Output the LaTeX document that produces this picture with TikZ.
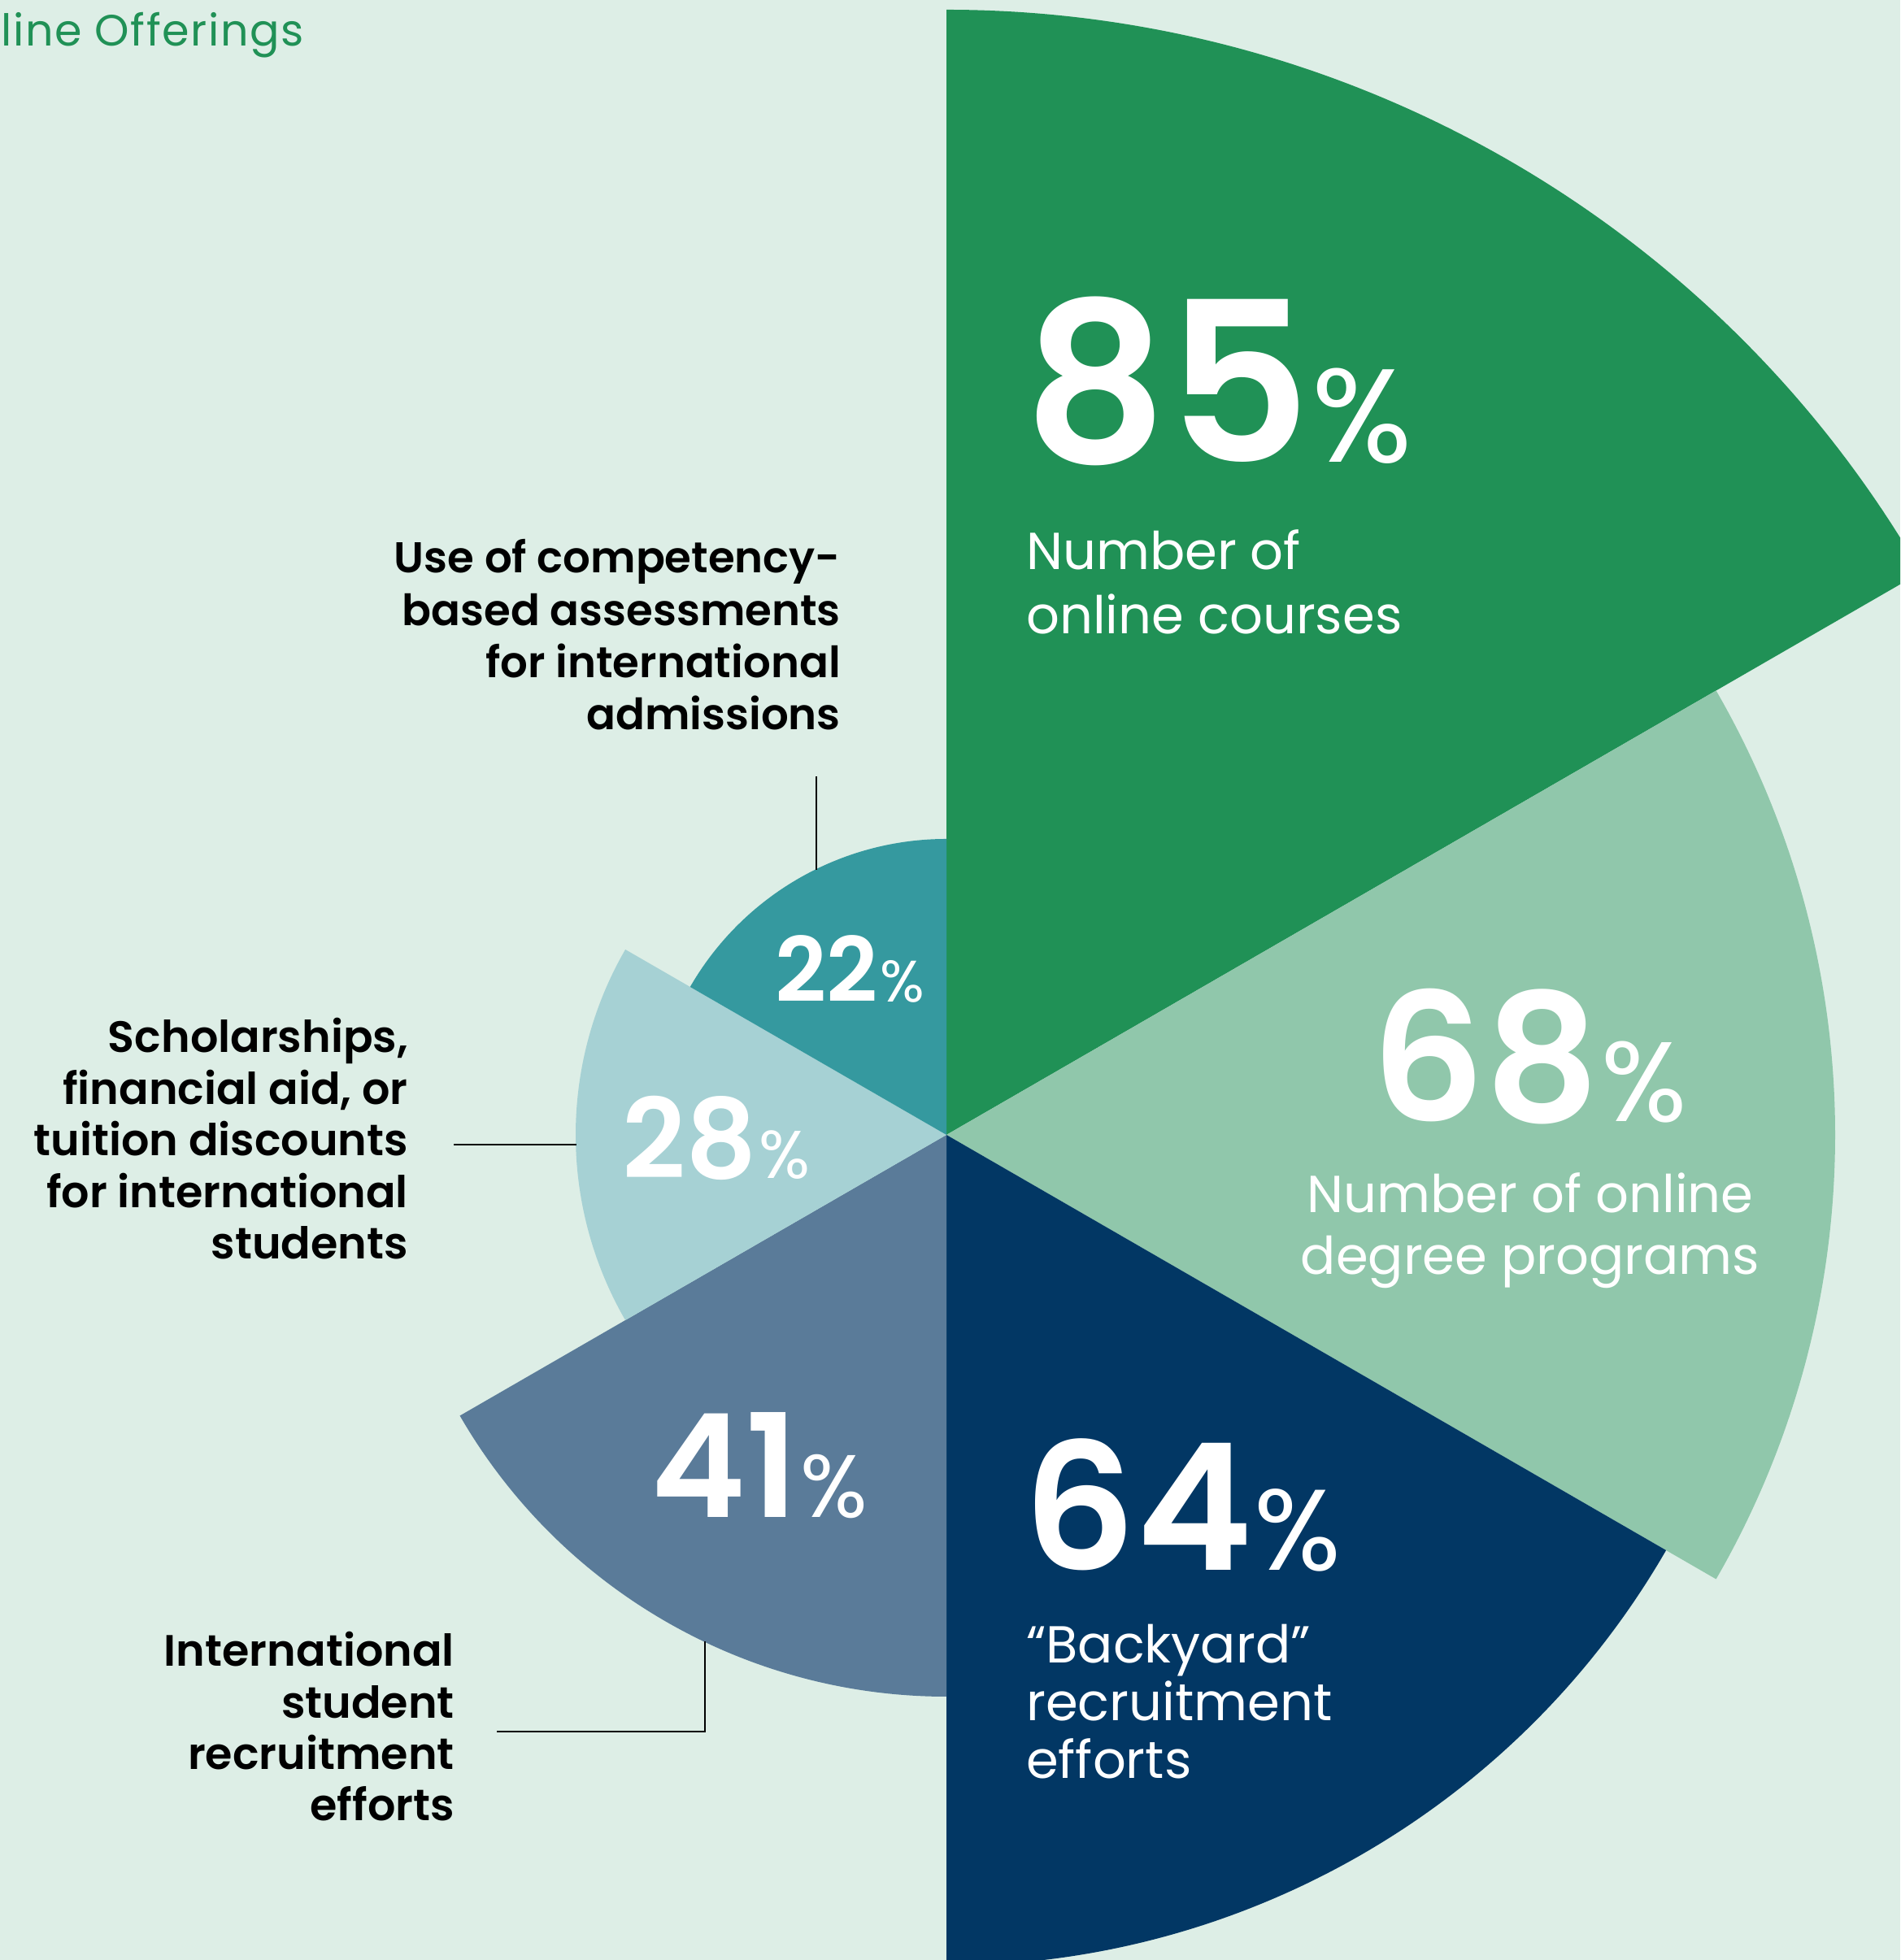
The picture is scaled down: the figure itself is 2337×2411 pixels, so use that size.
\documentclass[tikz,border=0pt]{standalone}
\usepackage{fontspec}
\setmainfont{Poppins}[BoldFont={* SemiBold}]
\definecolor{bg}{HTML}{DDEEE6}
\definecolor{c85}{HTML}{209156}
\definecolor{c68}{HTML}{90C7AB}
\definecolor{c64}{HTML}{023764}
\definecolor{c41}{HTML}{5A7B99}
\definecolor{c28}{HTML}{A6D1D4}
\definecolor{c22}{HTML}{35999F}
\newcommand\fsz[2]{\fontsize{#1}{#2}\selectfont}
\tikzset{
  lbl/.style={inner sep=0pt, text=black},
  wht/.style={inner sep=0pt, text=white},
  num/.style={inner sep=0pt, text=white},
  conn/.style={draw=black, line width=2.7pt},
}
\newcommand\sector[4]{% color, start, end, radius
  \fill[#1] (C) -- ++(#2:#4pt) arc[start angle=#2, end angle=#3, radius=#4pt] -- cycle;}
\begin{document}
\begin{tikzpicture}[x=1pt,y=1pt]
\useasboundingbox (0,0) rectangle (2337,2411);
\fill[bg] (0,0) rectangle (2337,2411);
\begin{scope}
\clip (0,0) rectangle (2337,2411);
\coordinate (C) at (1164,1015);
\sector{c85}{30}{90}{1384}
\sector{c68}{-30}{30}{1093}
\sector{c64}{-90}{-30}{1022}
\sector{c41}{-150}{-90}{691}
\sector{c28}{150}{210}{456}
\sector{c22}{90}{150}{364}
\end{scope}

% title
\node[anchor=base west, inner sep=0pt, text=c85, font=\fsz{54}{60}\addfontfeatures{LetterSpace=3}] (title) at (1,2354) {line Offerings};

% numbers
\node[num, anchor=base west] (n85) at (1259,1842) {\fsz{274}{274}\bfseries 85\kern2pt{\mdseries\fsz{163}{163}\%}};
\node[num, anchor=base] (n68) at (1881,1031) {\fsz{219}{219}\bfseries 68\kern2pt{\mdseries\fsz{139}{139}\%}};
\node[num, anchor=base west] (n64) at (1258,479) {\fsz{217}{217}\bfseries 64\kern2pt{\mdseries\fsz{141}{141}\%}};
\node[num, anchor=base west] (n41) at (800,544) {\fsz{177}{177}\bfseries 41\kern3pt{\mdseries\fsz{109}{109}\%}};
\node[num, anchor=base west] (n28) at (765,961) {\fsz{136}{136}\bfseries 28\kern3pt{\mdseries\fsz{83}{83}\%}};
\node[num, anchor=base west] (n22) at (953,1178) {\fsz{110}{110}\bfseries 22\kern3pt{\mdseries\fsz{72}{72}\%}};

% white captions
\node[wht, anchor=base west, font=\fsz{64}{79}] (t85) at (1262,1710)
  {\begin{tabular}[t]{@{}l@{}}Number of\\online courses\end{tabular}};
\node[wht, anchor=base, font=\fsz{64}{76}] (t68) at (1882,919)
  {\begin{tabular}[t]{@{}c@{}}Number of online\\degree programs\end{tabular}};
\node[wht, anchor=base west, font=\fsz{64}{71}] (t64) at (1262,365)
  {\begin{tabular}[t]{@{}l@{}}“Backyard”\\recruitment\\efforts\end{tabular}};

% black labels
\node[lbl, anchor=base east, font=\bfseries\fsz{53}{64.3}] (l22) at (1034,1706)
  {\begin{tabular}[t]{@{}r@{}}Use of competency-\\based assessments\\for international\\admissions\end{tabular}};
\node[lbl, anchor=base east, font=\bfseries\fsz{54}{63.5}] (l28) at (502,1116)
  {\begin{tabular}[t]{@{}r@{}}Scholarships,\\financial aid, or\\tuition discounts\\for international\\students\end{tabular}};
\node[lbl, anchor=base east, font=\bfseries\fsz{54}{63.3}] (l41) at (559,361)
  {\begin{tabular}[t]{@{}r@{}}International\\student\\recruitment\\efforts\end{tabular}};

% connectors
\coordinate (t22) at (1004,1456);
\coordinate (s22) at (1004,1341);
\coordinate (t28) at (558,1003);
\coordinate (s28) at (709,1003);
\coordinate (t41) at (611,281);
\coordinate (s41) at (867,392);
\draw[conn] (t22) -- (s22);
\draw[conn] (t28) -- (s28);
\draw[conn] (t41) -| (s41);
\end{tikzpicture}
\end{document}
